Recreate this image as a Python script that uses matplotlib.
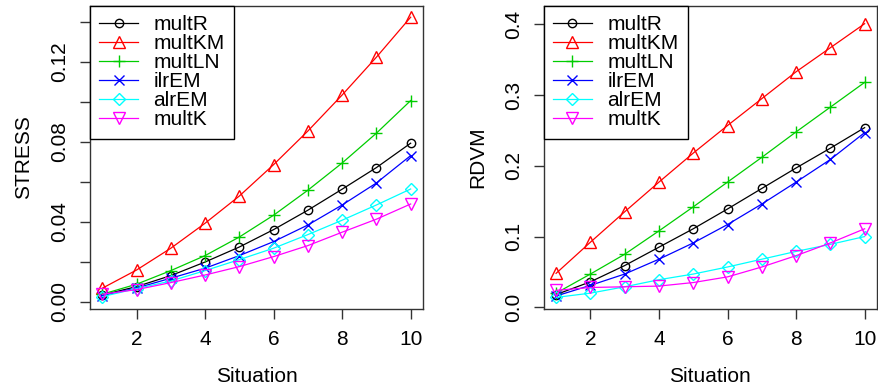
import matplotlib
matplotlib.use("Agg")
import matplotlib.pyplot as plt

plt.rcParams['font.family'] = ['Liberation Sans', 'DejaVu Sans']

situation = [1, 2, 3, 4, 5, 6, 7, 8, 9, 10]
methods = ["multR", "multKM", "multLN", "ilrEM", "alrEM", "multK"]

# STRESS values
stress_multR = [0.0033, 0.0075, 0.0130, 0.0198, 0.0273, 0.0360, 0.0457, 0.0562, 0.0670, 0.0792]
stress_multKM = [0.0067, 0.0158, 0.0267, 0.0392, 0.0528, 0.0685, 0.0853, 0.1033, 0.1222, 0.1422]
stress_multLN = [0.0037, 0.0087, 0.0155, 0.0230, 0.0323, 0.0432, 0.0557, 0.0693, 0.0842, 0.1005]
stress_ilrEM = [0.0030, 0.0068, 0.0117, 0.0167, 0.0230, 0.0300, 0.0383, 0.0483, 0.0593, 0.0730]
stress_alrEM = [0.0025, 0.0065, 0.0103, 0.0155, 0.0210, 0.0267, 0.0335, 0.0407, 0.0483, 0.0563]
stress_multK = [0.0037, 0.0060, 0.0095, 0.0133, 0.0175, 0.0225, 0.0280, 0.0347, 0.0412, 0.0488]

# RDVM values
rdvm_multR = [0.018, 0.036, 0.059, 0.085, 0.111, 0.139, 0.168, 0.197, 0.225, 0.254]
rdvm_multKM = [0.048, 0.092, 0.135, 0.177, 0.218, 0.257, 0.295, 0.333, 0.367, 0.401]
rdvm_multLN = [0.020, 0.047, 0.075, 0.108, 0.142, 0.177, 0.212, 0.248, 0.283, 0.318]
rdvm_ilrEM = [0.016, 0.031, 0.047, 0.068, 0.091, 0.117, 0.146, 0.177, 0.209, 0.247]
rdvm_alrEM = [0.014, 0.020, 0.029, 0.039, 0.047, 0.057, 0.068, 0.079, 0.089, 0.100]
rdvm_multK = [0.024, 0.028, 0.029, 0.030, 0.035, 0.043, 0.057, 0.073, 0.091, 0.111]

stress = [stress_multR, stress_multKM, stress_multLN, stress_ilrEM, stress_alrEM, stress_multK]
rdvm = [rdvm_multR, rdvm_multKM, rdvm_multLN, rdvm_ilrEM, rdvm_alrEM, rdvm_multK]

colors = ["black", "#FF0000", "#00CD00", "#0000FF", "#00FFFF", "#FF00FF"]
markers = ["o", "^", "+", "x", "D", "v"]
msizes = [6, 8, 9, 7, 6.5, 8]

fs = 15

fig = plt.figure(figsize=(8.79, 3.9), dpi=100)
ax1 = fig.add_axes([0.1024, 0.2077, 0.3788, 0.7769])
ax2 = fig.add_axes([0.6186, 0.2077, 0.3791, 0.7769])


def draw_panel(ax, series, ylabel, ylim, yticks, ylabels):
    for vals, c, m, ms, name in zip(series, colors, markers, msizes, methods):
        ax.plot(situation, vals, color=c, marker=m, markersize=ms, markerfacecolor="none",
                markeredgecolor=c, markeredgewidth=1, linewidth=0.9, label=name)
    ax.set_xlim(0.64, 10.36)
    ax.set_ylim(*ylim)
    ax.set_xticks([2, 4, 6, 8, 10])
    ax.set_yticks(yticks)
    ax.set_yticklabels(ylabels, rotation=90, va="center")
    ax.tick_params(direction="out", length=7, width=1, labelsize=fs, pad=8, color="#333333")
    for sp in ax.spines.values():
        sp.set_linewidth(1)
        sp.set_color("#333333")
    ax.set_xlabel("Situation", fontsize=fs, labelpad=13)
    ax.set_ylabel(ylabel, fontsize=fs, labelpad=12)
    leg = ax.legend(loc="upper left", borderaxespad=0, fontsize=fs, fancybox=False,
                    edgecolor="black", framealpha=1, handlelength=1.85, handletextpad=0.75,
                    borderpad=0.45, labelspacing=0.0)
    leg.get_frame().set_linewidth(1)


draw_panel(ax1, stress, "STRESS", (-0.0037, 0.1478),
           [0.0, 0.02, 0.04, 0.06, 0.08, 0.10, 0.12, 0.14],
           ["0.00", "", "0.04", "", "0.08", "", "0.12", ""])
draw_panel(ax2, rdvm, "RDVM", (-0.0024, 0.426),
           [0.0, 0.1, 0.2, 0.3, 0.4],
           ["0.0", "0.1", "0.2", "0.3", "0.4"])

fig.savefig("out.png", dpi=100)
